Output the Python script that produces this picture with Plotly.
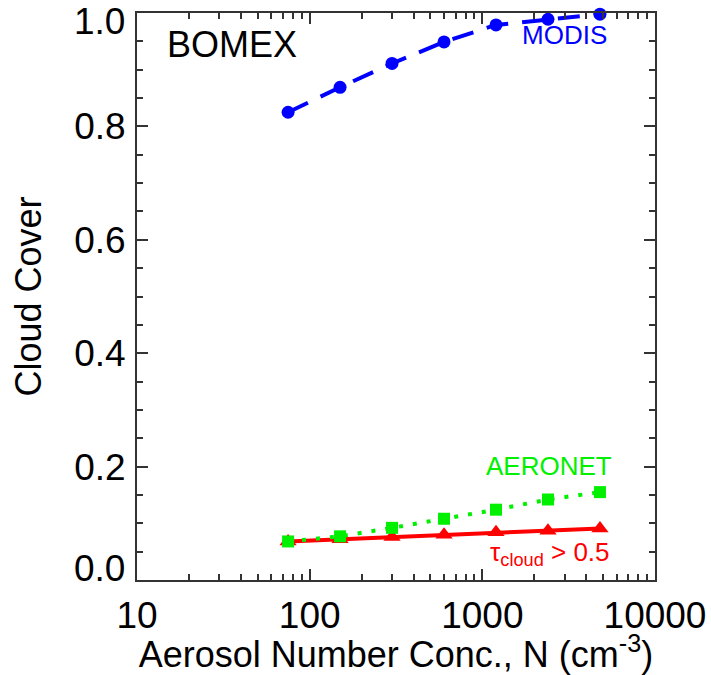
import plotly.graph_objects as go

N = [75, 150, 300, 600, 1200, 2400, 4800]
modis = [0.825, 0.869, 0.911, 0.949, 0.979, 0.989, 0.998]
aeronet = [0.068, 0.077, 0.092, 0.108, 0.124, 0.142, 0.155]
tau = [0.068, 0.072, 0.076, 0.080, 0.084, 0.087, 0.091]

y_tickvals = [0, 0.2, 0.4, 0.6, 0.8, 1.0]
y_ticktext = ["0.0", "0.2", "0.4", "0.6", "0.8", "1.0"]
x_tickvals = [10, 100, 1000, 10000]
x_ticktext = ["10", "100", "1000", "10000"]

BLUE = "#0000FF"
GREEN = "#00F000"
RED = "#FF0000"
FONT = "Liberation Sans, Arial, sans-serif"
TICKSIZE = 37

fig = go.Figure()
fig.add_trace(go.Scatter(x=N, y=tau, mode="lines+markers",
                         line=dict(color=RED, width=4),
                         marker=dict(symbol="triangle-up", size=15, color=RED),
                         cliponaxis=False, showlegend=False))
fig.add_trace(go.Scatter(x=N, y=aeronet, mode="lines+markers",
                         line=dict(color=GREEN, width=4, dash="4px,10px"),
                         marker=dict(symbol="square", size=12, color=GREEN),
                         cliponaxis=False, showlegend=False))
fig.add_trace(go.Scatter(x=N, y=modis, mode="lines+markers",
                         line=dict(color=BLUE, width=4, dash="22px,14px"),
                         marker=dict(symbol="circle", size=13, color=BLUE),
                         cliponaxis=False, showlegend=False))

fig.add_annotation(x=1.16, y=0.944, xref="x", yref="y", text="BOMEX",
                   showarrow=False, xanchor="left", yanchor="middle",
                   font=dict(size=36, color="black", family=FONT))
fig.add_annotation(x=3.478, y=0.962, xref="x", yref="y", text="MODIS",
                   showarrow=False, xanchor="center", yanchor="middle",
                   font=dict(size=26, color=BLUE, family=FONT))
fig.add_annotation(x=3.386, y=0.201, xref="x", yref="y", text="AERONET",
                   showarrow=False, xanchor="center", yanchor="middle",
                   font=dict(size=26, color=GREEN, family=FONT))
fig.add_annotation(x=3.75, y=0.046, xref="x", yref="y",
                   text="τ<sub>cloud</sub> > 0.5",
                   showarrow=False, xanchor="right", yanchor="middle",
                   font=dict(size=26, color=RED, family=FONT))

# end labels of the y axis are drawn shifted inward (as in the reference)
shown_ticktext = [t if 0 < v < 1.0 else "" for v, t in zip(y_tickvals, y_ticktext)]
for v, t in zip(y_tickvals, y_ticktext):
    if v == 0:
        fig.add_annotation(x=-0.02, y=0.021, xref="paper", yref="y", text=t,
                           showarrow=False, xanchor="right", yanchor="middle",
                           font=dict(size=TICKSIZE, color="black", family=FONT))
    elif v == 1.0:
        fig.add_annotation(x=-0.02, y=0.985, xref="paper", yref="y", text=t,
                           showarrow=False, xanchor="right", yanchor="middle",
                           font=dict(size=TICKSIZE, color="black", family=FONT))

axis_common = dict(showline=True, linecolor="#333333", linewidth=2,
                   mirror="ticks", ticks="inside", tickcolor="#333333",
                   tickwidth=1.5, showgrid=False, zeroline=False,
                   automargin=False,
                   tickfont=dict(size=TICKSIZE, color="black", family=FONT))

fig.update_xaxes(type="log", range=[1, 4], tickvals=x_tickvals,
                 ticktext=x_ticktext, ticklen=11, ticklabelstandoff=2,
                 minor=dict(ticks="inside", ticklen=6, tickcolor="#333333",
                            tickwidth=1.5, dtick="D1", showgrid=False),
                 title=dict(text="Aerosol Number Conc., N (cm<sup>-3</sup>)",
                            font=dict(size=36, color="black", family=FONT),
                            standoff=0),
                 **axis_common)
fig.update_yaxes(range=[0, 1.0], tickvals=y_tickvals,
                 ticktext=shown_ticktext, ticklen=11, ticklabelstandoff=2,
                 minor=dict(ticks="inside", ticklen=6, tickcolor="#333333",
                            tickwidth=1.5, dtick=0.05, showgrid=False),
                 title=dict(text="Cloud Cover",
                            font=dict(size=36, color="black", family=FONT),
                            standoff=22),
                 **axis_common)

fig.update_layout(width=711, height=675,
                  margin=dict(l=137, r=56, t=13, b=95),
                  plot_bgcolor="white", paper_bgcolor="white",
                  font=dict(family=FONT))

fig.write_html("out.html")
